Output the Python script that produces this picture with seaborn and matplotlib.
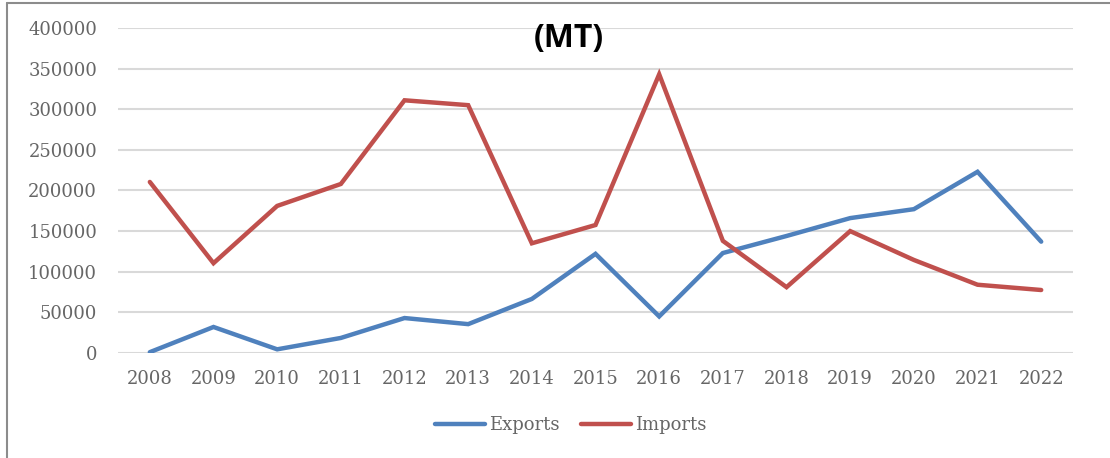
# exports vs imports (MT), 2008-2022
import pandas as pd
import matplotlib.pyplot as plt
import seaborn as sns
from matplotlib.lines import Line2D

years = list(range(2008, 2023))
exports = [1000, 32000, 4500, 18500, 43000, 35500, 66500, 122000,
           45000, 123000, 144000, 166000, 177000, 223000, 137000]
imports = [210500, 110500, 181000, 208000, 311000, 305000, 135000, 157500,
           343000, 138000, 81000, 150000, 114500, 84000, 77500]
series_names = ["Exports", "Imports"]
colors = ["#4f81bd", "#c0504d"]
yticks = [0, 50000, 100000, 150000, 200000, 250000, 300000, 350000, 400000]


def main():
    df = pd.DataFrame({"year": years * 2,
                       "value": exports + imports,
                       "series": ["Exports"] * len(years) + ["Imports"] * len(years)})

    sns.set_theme(style="white")
    plt.rcParams["font.family"] = ["DejaVu Serif"]

    fig = plt.figure(figsize=(11.1, 4.58), dpi=100)
    ax = fig.add_axes([0.1063, 0.2293, 0.8604, 0.7096])

    sns.lineplot(data=df, x="year", y="value", hue="series", hue_order=series_names,
                 palette=colors, linewidth=3.2, ax=ax, legend=False,
                 solid_capstyle="round", solid_joinstyle="miter")

    ax.set_xlim(2007.5, 2022.5)
    ax.set_ylim(0, 400000)
    ax.set_xticks(years)
    ax.set_xticklabels([str(y) for y in years])
    ax.set_yticks(yticks)
    ax.set_yticklabels([str(v) for v in yticks])
    ax.set_xlabel("")
    ax.set_ylabel("")
    ax.tick_params(axis="both", length=0, labelsize=13, colors="#666666")
    ax.tick_params(axis="y", pad=15)
    ax.tick_params(axis="x", pad=12)
    ax.yaxis.grid(True, color="#d9d9d9", linewidth=1.5)
    ax.set_axisbelow(True)
    for s in ax.spines.values():
        s.set_visible(False)

    # legend below the axis
    handles = [Line2D([0], [0], color=c, lw=3.2, solid_capstyle="round") for c in colors]
    leg = fig.legend(handles, series_names, loc="center", bbox_to_anchor=(0.514, 0.072),
                     ncol=2, frameon=False, fontsize=13, handlelength=2.8,
                     handletextpad=0.2, columnspacing=1.2)
    for t in leg.get_texts():
        t.set_color("#666666")

    fig.text(0.512, 0.917, "(MT)", ha="center", va="center", fontsize=23,
             fontweight="bold", family=["Open Sans", "DejaVu Sans"], color="black")

    # outer chart frame, cropped at right and bottom
    fig.add_artist(Line2D([0.0063, 0.0063], [0, 0.9935], transform=fig.transFigure,
                          color="#8c8c8c", lw=1.5))
    fig.add_artist(Line2D([0.0063, 1.0], [0.9935, 0.9935], transform=fig.transFigure,
                          color="#8c8c8c", lw=1.5))

    fig.savefig("out.png", dpi=100)
    plt.close(fig)


if __name__ == "__main__":
    main()
